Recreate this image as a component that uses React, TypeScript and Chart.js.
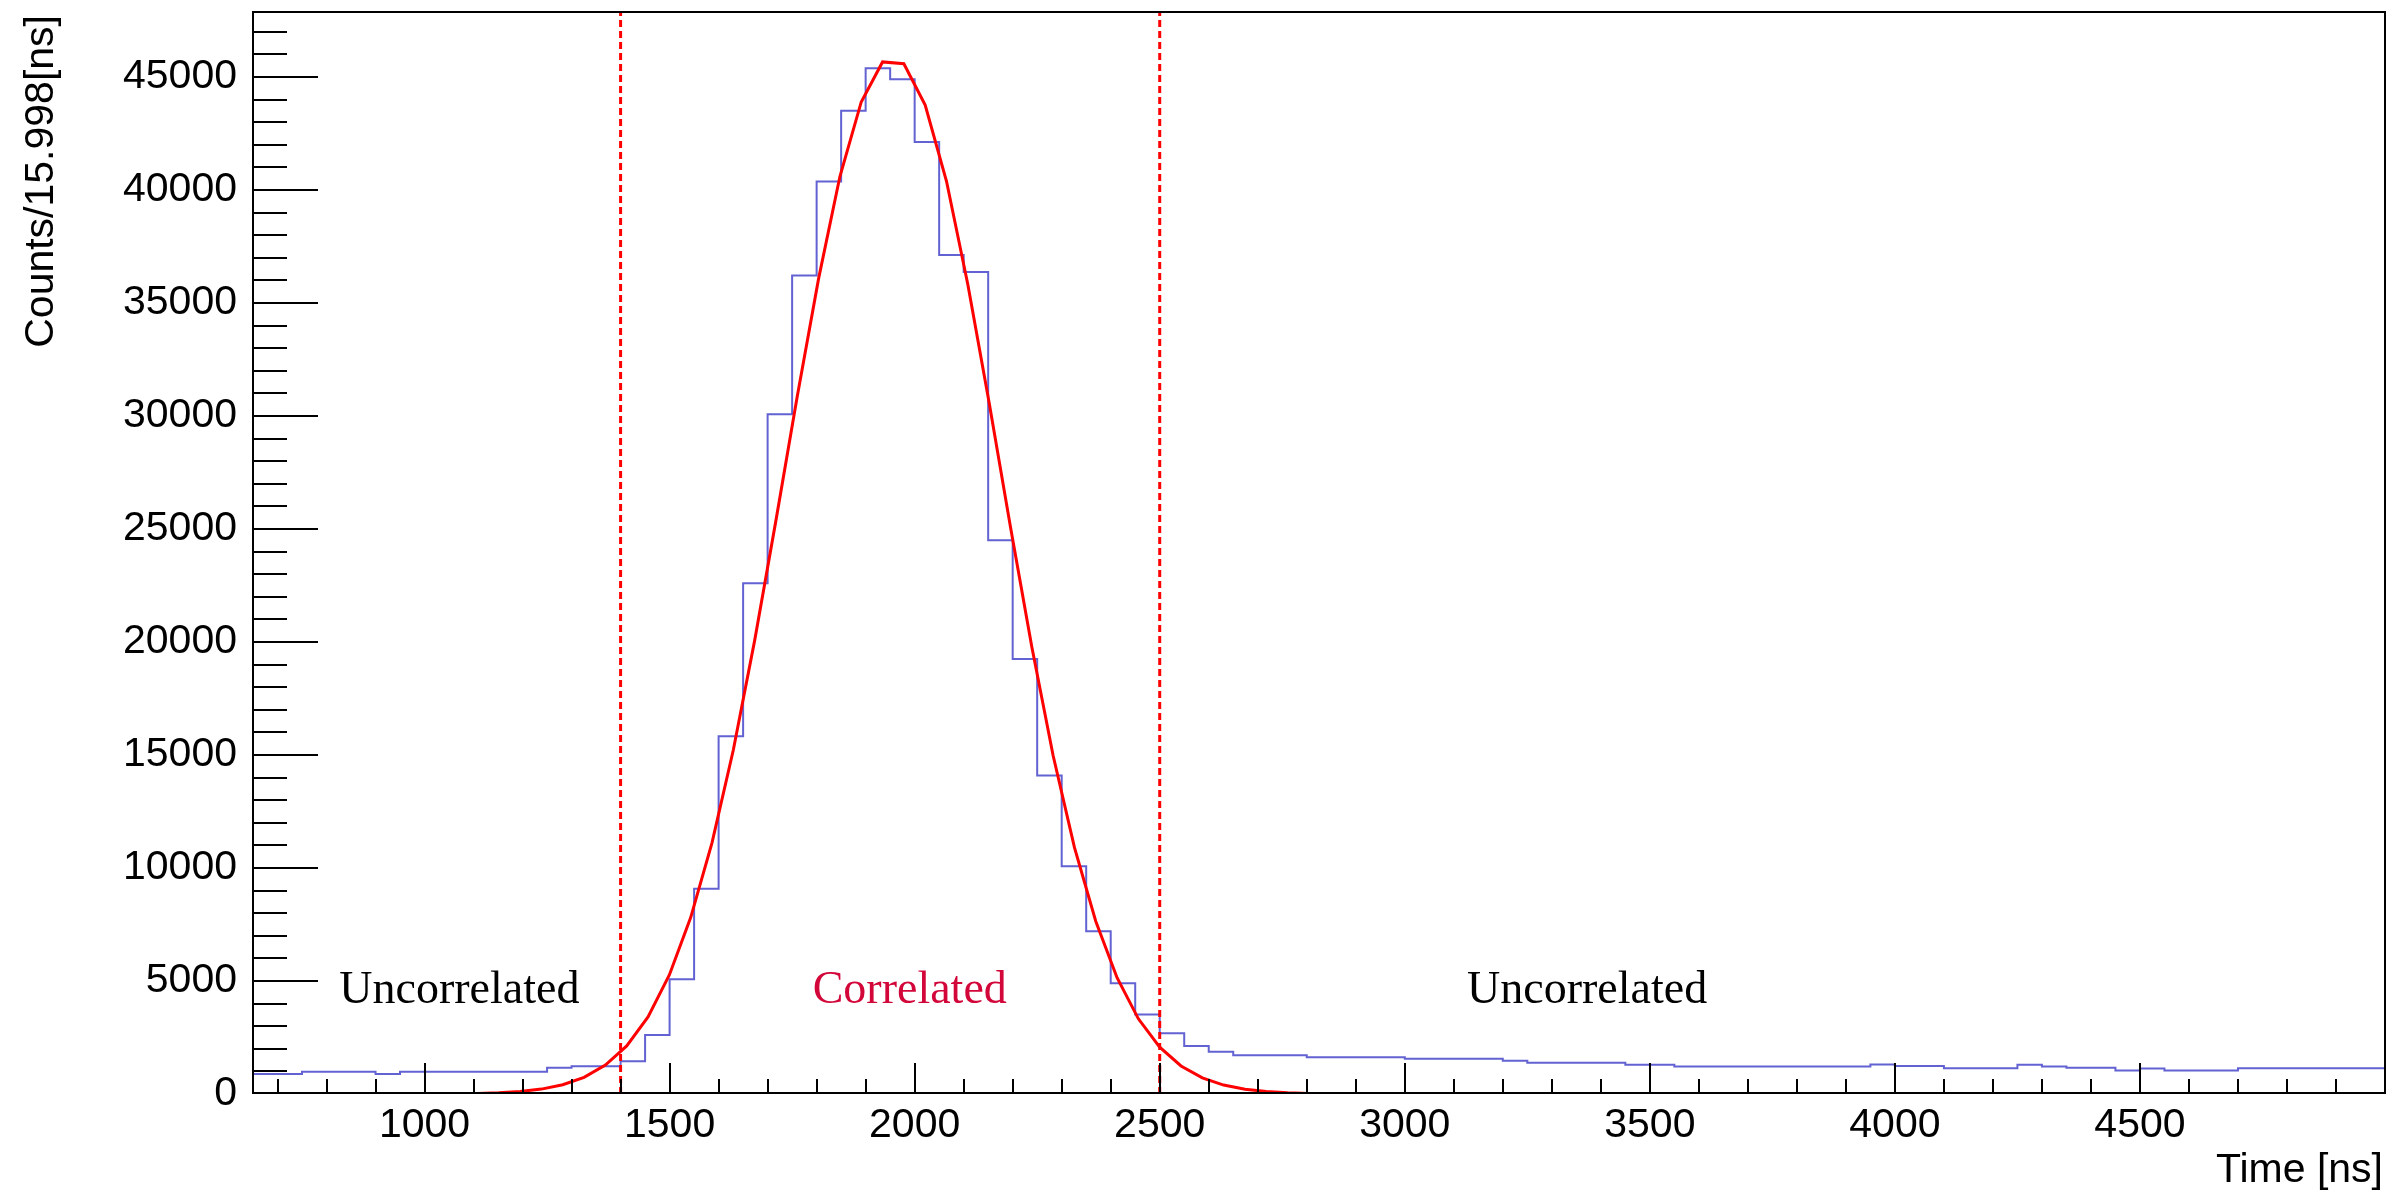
import { useEffect, useRef } from 'react';
import { Chart, registerables } from 'chart.js';

Chart.register(...registerables);

// ---- Histogram (bin width 50 ns, starting at 650 ns) ----
const BIN_LOW = 650;
const BIN_WIDTH = 50;
const HIST_COUNTS = [
  880, 880, 985, 985, 985, 880, 985, 985, 985, 985,
  985, 985, 1160, 1230, 1230, 1450, 2610, 5080, 9080, 15830,
  22600, 30080, 36220, 40380, 43510, 45390, 44900, 42130, 37130, 36370,
  24500, 19250, 14090, 10080, 7200, 4900, 3520, 2690, 2120, 1870,
  1720, 1720, 1720, 1630, 1630, 1630, 1630, 1560, 1560, 1560,
  1560, 1470, 1385, 1385, 1385, 1385, 1295, 1295, 1220, 1220,
  1220, 1220, 1220, 1220, 1220, 1220, 1310, 1240, 1240, 1145,
  1145, 1145, 1295, 1220, 1160, 1160, 1045, 1130, 1045, 1045,
  1045, 1145, 1145, 1145, 1145, 1145, 1145,
];

// ---- Fit curve (polyline as drawn) ----
const FIT_X = [
  673, 1021, 1064.5, 1108, 1151.5, 1195, 1238.5, 1282, 1325.5, 1369,
  1412.5, 1456, 1499.5, 1543, 1586.5, 1630, 1673.5, 1717, 1760.5, 1804,
  1847.5, 1891, 1934.5, 1978, 2021.5, 2065, 2108.5, 2152, 2195.5, 2239,
  2282.5, 2326, 2369.5, 2413, 2456.5, 2500, 2543.5, 2587, 2630.5, 2674,
  2717.5, 2761, 2804.5, 2848, 2891.5, 4979.5,
];
const FIT_Y = [
  0, 5, 12, 26, 55, 111, 217, 408, 736, 1277,
  2130, 3411, 5266, 7804, 11113, 15221, 20063, 25384, 30880, 36080,
  40600, 43900, 45670, 45590, 43760, 40390, 35820, 30590, 25090, 19790,
  14980, 10910, 7645, 5147, 3327, 2072, 1240, 713, 394, 209,
  107, 52, 24, 11, 5, 0,
];

// ---- Cut lines and region labels ----
const CUT_LINES = [1400, 2500];
const REGION_LABELS = ['Uncorrelated', 'Correlated', 'Uncorrelated'];
const REGION_LABEL_X = [1071, 1990, 3372];
const REGION_LABEL_Y = 4005;
const REGION_COLORS = ['#000000', '#d3063a', '#000000'];

// ---- Axes ----
const X_MIN = 650;
const X_MAX = 5000;
const Y_MIN = 0;
const Y_MAX = 47880;
const X_TICKS = [1000, 1500, 2000, 2500, 3000, 3500, 4000, 4500];
const Y_TICKS = [0, 5000, 10000, 15000, 20000, 25000, 30000, 35000, 40000, 45000];
const X_MAJOR_STEP = 500;
const X_MINOR_STEP = 100;
const Y_MAJOR_STEP = 5000;
const Y_MINOR_STEP = 1000;
const X_TITLE = 'Time [ns]';
const Y_TITLE = 'Counts/15.998[ns]';

const SANS = '"Liberation Sans", Arial, Helvetica, sans-serif';
const SERIF = '"Liberation Serif", "Times New Roman", serif';

const rootAxesPlugin = {
  id: 'rootAxes',
  afterDatasetsDraw(chart: any) {
    const { ctx, chartArea: a, scales } = chart;
    const xs = scales.x;
    const ys = scales.y;
    ctx.save();
    ctx.strokeStyle = '#000';
    ctx.lineWidth = 2;
    // y ticks (inside frame, left)
    for (let v = Y_MIN + Y_MINOR_STEP; v < Y_MAX; v += Y_MINOR_STEP) {
      const py = Math.round(ys.getPixelForValue(v));
      const len = v % Y_MAJOR_STEP === 0 ? 65 : 34;
      ctx.beginPath();
      ctx.moveTo(a.left, py);
      ctx.lineTo(a.left + len, py);
      ctx.stroke();
    }
    // x ticks (inside frame, bottom)
    const startX = Math.ceil(X_MIN / X_MINOR_STEP) * X_MINOR_STEP;
    for (let v = startX; v < X_MAX; v += X_MINOR_STEP) {
      const px = Math.round(xs.getPixelForValue(v));
      const len = v % X_MAJOR_STEP === 0 ? 31 : 15;
      ctx.beginPath();
      ctx.moveTo(px, a.bottom);
      ctx.lineTo(px, a.bottom - len);
      ctx.stroke();
    }
    // frame
    ctx.lineWidth = 2;
    ctx.beginPath();
    ctx.moveTo(a.left, a.top);
    ctx.lineTo(a.right, a.top);
    ctx.lineTo(a.right, a.bottom - 1);
    ctx.lineTo(a.left, a.bottom - 1);
    ctx.closePath();
    ctx.stroke();

    // region labels
    ctx.font = `46px ${SERIF}`;
    ctx.textAlign = 'center';
    ctx.textBaseline = 'alphabetic';
    REGION_LABELS.forEach((t, i) => {
      ctx.fillStyle = REGION_COLORS[i];
      ctx.fillText(t, xs.getPixelForValue(REGION_LABEL_X[i]), ys.getPixelForValue(REGION_LABEL_Y));
    });

    // axis titles
    ctx.fillStyle = '#000';
    ctx.font = `41px ${SANS}`;
    ctx.textAlign = 'right';
    ctx.textBaseline = 'alphabetic';
    ctx.fillText(X_TITLE, a.right - 2, 1182);
    ctx.save();
    ctx.translate(53, 15);
    ctx.rotate(-Math.PI / 2);
    ctx.textAlign = 'right';
    ctx.fillText(Y_TITLE, 0, 0);
    ctx.restore();
    ctx.restore();
  },
};

export default function App() {
  const canvasRef = useRef<HTMLCanvasElement | null>(null);

  useEffect(() => {
    const canvas = canvasRef.current;
    if (!canvas) return;

    const histData = HIST_COUNTS.map((c, i) => ({ x: BIN_LOW + i * BIN_WIDTH, y: c }));
    histData.push({ x: BIN_LOW + HIST_COUNTS.length * BIN_WIDTH, y: HIST_COUNTS[HIST_COUNTS.length - 1] });
    const fitData = FIT_X.map((x, i) => ({ x, y: FIT_Y[i] }));

    const cutDatasets = CUT_LINES.map((c) => ({
      label: `cut ${c}`,
      data: [{ x: c, y: Y_MIN }, { x: c, y: Y_MAX }],
      borderColor: '#ff0000',
      borderWidth: 3,
      borderDash: [7, 4],
      pointRadius: 0,
      tension: 0,
      fill: false,
      order: 0,
    }));

    const chart = new Chart(canvas, {
      type: 'line',
      data: {
        datasets: [
          ...cutDatasets,
          {
            label: 'fit',
            data: fitData,
            borderColor: '#ff0000',
            borderWidth: 3,
            pointRadius: 0,
            tension: 0,
            fill: false,
            order: 1,
          },
          {
            label: 'hist',
            data: histData,
            borderColor: 'rgb(98, 98, 210)',
            borderWidth: 2,
            pointRadius: 0,
            stepped: true,
            fill: false,
            order: 2,
          },
        ] as any,
      },
      options: {
        animation: false,
        responsive: false,
        devicePixelRatio: 1,
        parsing: false as any,
        layout: { padding: { top: 12, right: 17, left: 0, bottom: 0 } },
        plugins: {
          legend: { display: false },
          tooltip: { enabled: false },
        },
        scales: {
          x: {
            type: 'linear',
            min: X_MIN,
            max: X_MAX,
            grid: { display: false, drawTicks: false },
            border: { display: false },
            ticks: {
              font: { family: SANS, size: 41 },
              color: '#000',
              padding: 7,
              maxRotation: 0,
              autoSkip: false,
              callback: (v: any) => String(v),
            },
            afterBuildTicks: (s: any) => {
              s.ticks = X_TICKS.map((v) => ({ value: v }));
            },
            afterFit: (s: any) => {
              s.height = 97;
              s.paddingLeft = 0;
              s.paddingRight = 0;
            },
          },
          y: {
            type: 'linear',
            min: Y_MIN,
            max: Y_MAX,
            grid: { display: false, drawTicks: false },
            border: { display: false },
            ticks: {
              font: { family: SANS, size: 41 },
              color: '#000',
              padding: 16,
              autoSkip: false,
              callback: (v: any) => String(v),
            },
            afterBuildTicks: (s: any) => {
              s.ticks = Y_TICKS.map((v) => ({ value: v }));
            },
            afterFit: (s: any) => {
              s.width = 253;
              s.paddingTop = 0;
              s.paddingBottom = 0;
            },
          },
        },
      } as any,
      plugins: [rootAxesPlugin],
    });

    return () => chart.destroy();
  }, []);

  return (
    <div style={{ position: 'fixed', left: 0, top: 0, width: 2402, height: 1191, background: '#fff' }}>
      <canvas
        ref={canvasRef}
        width={2402}
        height={1191}
        style={{ display: 'block', width: 2402, height: 1191 }}
      />
    </div>
  );
}
